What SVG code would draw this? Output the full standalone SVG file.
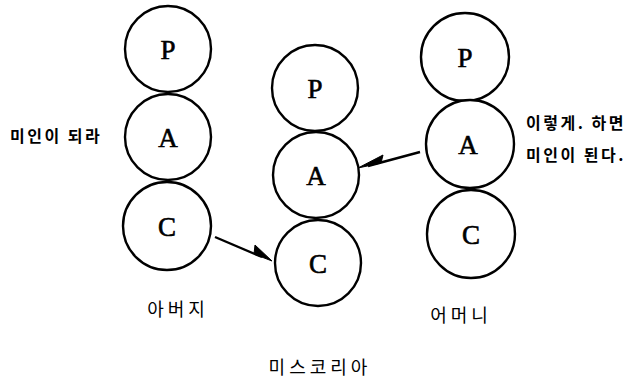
<svg xmlns="http://www.w3.org/2000/svg" width="638" height="382" viewBox="0 0 638 382">
  <style>
    .ring { fill: #fff; stroke: #000; stroke-width: 2.4; }
    .gene { font-family: "Liberation Serif", serif; font-size: 27px; text-anchor: middle; fill: #000; stroke: #000; stroke-width: 0.6; }
    .note { font-family: "Noto Sans CJK KR", sans-serif; font-size: 16px; font-weight: bold; fill: #000; letter-spacing: 2.5px; }
    .name { font-family: "Noto Sans CJK KR", sans-serif; font-size: 18px; text-anchor: middle; fill: #000; letter-spacing: 4px; }
    .link { stroke: #000; stroke-width: 2.4; fill: none; }
    .head { fill: #000; stroke: #000; stroke-width: 1; stroke-linejoin: round; }
  </style>
  <rect width="638" height="382" fill="#fff"/>

  <!-- father column -->
  <g id="father-P"><circle class="ring" cx="168" cy="49" r="43"/><text class="gene" x="168" y="59">P</text></g>
  <g id="father-A"><circle class="ring" cx="168" cy="137" r="43"/><text class="gene" x="168" y="147">A</text></g>
  <g id="father-C"><circle class="ring" cx="167" cy="226" r="44"/><text class="gene" x="167" y="236">C</text></g>

  <!-- child column -->
  <g id="child-P"><circle class="ring" cx="315" cy="88" r="43"/><text class="gene" x="315" y="98">P</text></g>
  <g id="child-A"><circle class="ring" cx="316" cy="175" r="43"/><text class="gene" x="316" y="185">A</text></g>
  <g id="child-C"><circle class="ring" cx="318" cy="263" r="43"/><text class="gene" x="318" y="273">C</text></g>

  <!-- mother column -->
  <g id="mother-P"><circle class="ring" cx="465" cy="57" r="44"/><text class="gene" x="465" y="67">P</text></g>
  <g id="mother-A"><circle class="ring" cx="470" cy="144" r="44"/><text class="gene" x="468" y="154">A</text></g>
  <g id="mother-C"><circle class="ring" cx="471" cy="234" r="44"/><text class="gene" x="471" y="244">C</text></g>

  <!-- connectors -->
  <g id="connectors">
    <line class="link" x1="215" y1="237" x2="262" y2="257"/>
    <polygon class="head" points="272,261 255,245 254,254"/>
    <line class="link" x1="420" y1="152" x2="368" y2="166"/>
    <polygon class="head" points="358,168 383,155 381,163"/>
  </g>

  <!-- labels -->
  <g id="labels">
    <text class="note" x="10" y="142">미인이 되라</text>
    <text class="note" x="526" y="129">이렇게. 하면</text>
    <text class="note" x="526" y="161">미인이 된다.</text>
    <text class="name" x="178" y="316">아버지</text>
    <text class="name" x="461" y="322">어머니</text>
    <text class="name" x="320" y="374">미스코리아</text>
  </g>
</svg>
